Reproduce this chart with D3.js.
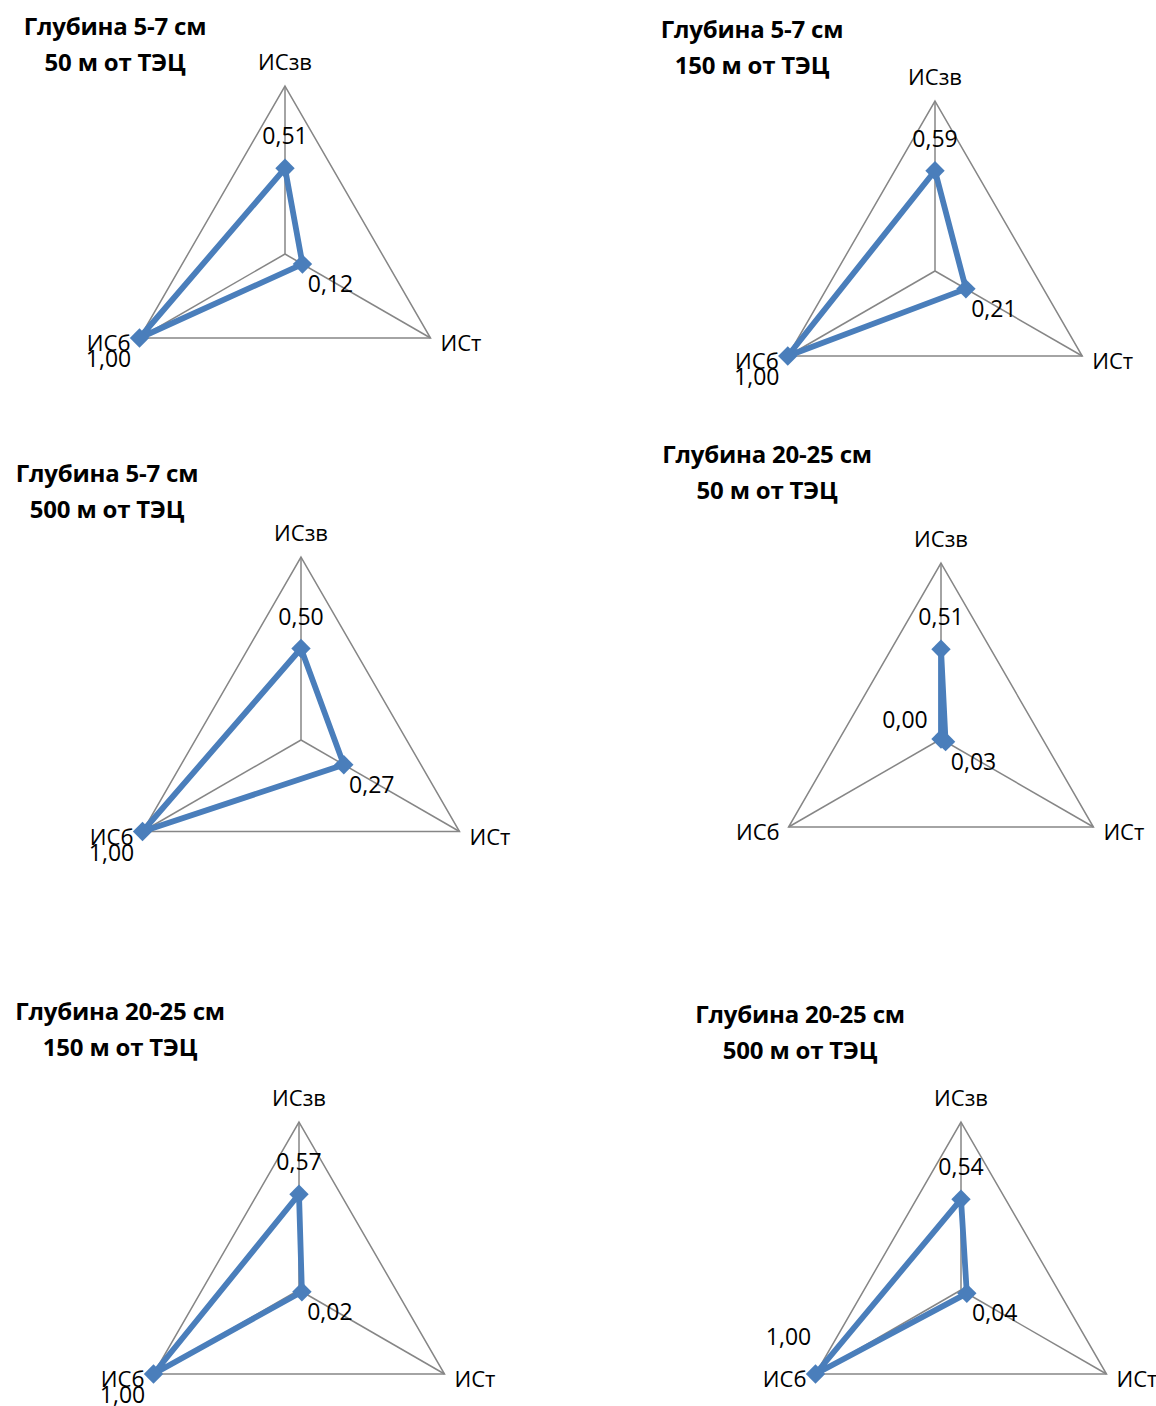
<!DOCTYPE html>
<html>
<head>
<meta charset="utf-8">
<script src="https://cdn.jsdelivr.net/npm/d3@7"></script>
<style>
  html, body { margin: 0; padding: 0; background: #fff; }
  svg { display: block; }
  text { font-family: "Open Sans", Lato, sans-serif; fill: #000; }
</style>
</head>
<body>
<svg id="chart" width="1156" height="1406"></svg>
<script>
// Axis names of every radar (clockwise from the top)
const axisNames = ["ИСзв", "ИСт", "ИСб"];

// Panel titles
const depthTitles = ["Глубина 5-7 см", "Глубина 5-7 см", "Глубина 5-7 см",
                     "Глубина 20-25 см", "Глубина 20-25 см", "Глубина 20-25 см"];
const distanceTitles = ["50 м от ТЭЦ", "150 м от ТЭЦ", "500 м от ТЭЦ",
                        "50 м от ТЭЦ", "150 м от ТЭЦ", "500 м от ТЭЦ"];

// Index values per panel
const valuesISzv = [0.51, 0.59, 0.50, 0.51, 0.57, 0.54];
const valuesISt  = [0.12, 0.21, 0.27, 0.03, 0.02, 0.04];
const valuesISb  = [1.00, 1.00, 1.00, 0.00, 1.00, 1.00];

// Panel geometry: radar centre, radius, title anchor
const panels = [
  { cx: 285, cy: 254,  r: 168, tx: 115, ty: 35 },
  { cx: 935, cy: 271,  r: 170, tx: 752, ty: 38 },
  { cx: 301, cy: 740,  r: 183, tx: 107, ty: 482 },
  { cx: 941, cy: 739,  r: 176, tx: 767, ty: 463 },
  { cx: 299, cy: 1290, r: 168, tx: 120, ty: 1020 },
  { cx: 961, cy: 1290, r: 168, tx: 800, ty: 1023 }
];

// Data-label offsets from the marker, per axis, with per-panel exceptions
const labelOffsets = [[0, -24], [28, 28], [-31, 29]];
const labelOverrides = { "3-2": [-36, -11], "5-2": [-27, -29] };

const svg = d3.select("#chart");
const fmt = v => d3.format(".2f")(v).replace(".", ",");
const angles = axisNames.map((_, i) => i * 2 * Math.PI / axisNames.length);
const polar = (cx, cy, rr, a) => [cx + rr * Math.sin(a), cy - rr * Math.cos(a)];

panels.forEach((p, k) => {
  const vals = [valuesISzv[k], valuesISt[k], valuesISb[k]];
  const rScale = d3.scaleLinear().domain([0, 1]).range([0, p.r]);
  const g = svg.append("g");

  // Title
  const title = g.append("text")
    .attr("text-anchor", "middle")
    .attr("font-weight", "bold")
    .attr("font-size", 24)
    .attr("letter-spacing", -0.2);
  title.append("tspan").attr("x", p.tx).attr("y", p.ty).text(depthTitles[k]);
  title.append("tspan").attr("x", p.tx).attr("y", p.ty + 36).text(distanceTitles[k]);

  // Grid: outer triangle and spokes
  const outer = angles.map(a => polar(p.cx, p.cy, rScale(1), a));
  g.append("path")
    .attr("d", "M" + outer.map(d => d.join(",")).join("L") + "Z")
    .attr("fill", "none").attr("stroke", "#868686").attr("stroke-width", 1.5);
  outer.forEach(pt => {
    g.append("line")
      .attr("x1", p.cx).attr("y1", p.cy).attr("x2", pt[0]).attr("y2", pt[1])
      .attr("stroke", "#868686").attr("stroke-width", 1.5);
  });

  // Axis labels
  g.append("text").attr("x", outer[0][0]).attr("y", outer[0][1] - 16)
    .attr("text-anchor", "middle").attr("font-size", 22).text(axisNames[0]);
  g.append("text").attr("x", outer[1][0] + 10).attr("y", outer[1][1] + 13)
    .attr("text-anchor", "start").attr("font-size", 22).text(axisNames[1]);
  g.append("text").attr("x", outer[2][0] - 9).attr("y", outer[2][1] + 13)
    .attr("text-anchor", "end").attr("font-size", 22).text(axisNames[2]);

  // Series line
  const radial = d3.lineRadial()
    .angle((d, i) => angles[i])
    .radius(d => rScale(d))
    .curve(d3.curveLinearClosed);
  g.append("path")
    .attr("transform", `translate(${p.cx},${p.cy})`)
    .attr("d", radial(vals))
    .attr("fill", "none")
    .attr("stroke", "#4A7EBB")
    .attr("stroke-width", 5.8)
    .attr("stroke-linejoin", "round");

  // Markers
  const pts = vals.map((v, i) => polar(p.cx, p.cy, rScale(v), angles[i]));
  const diamond = d3.symbol().type(d3.symbolDiamond2).size(240);
  pts.forEach(pt => {
    g.append("path")
      .attr("transform", `translate(${pt[0]},${pt[1]})`)
      .attr("d", diamond())
      .attr("fill", "#4A7EBB");
  });

  // Data labels
  pts.forEach((pt, i) => {
    const off = labelOverrides[k + "-" + i] || labelOffsets[i];
    g.append("text")
      .attr("x", pt[0] + off[0]).attr("y", pt[1] + off[1])
      .attr("text-anchor", "middle").attr("font-size", 23)
      .text(fmt(vals[i]));
  });
});
</script>
</body>
</html>
